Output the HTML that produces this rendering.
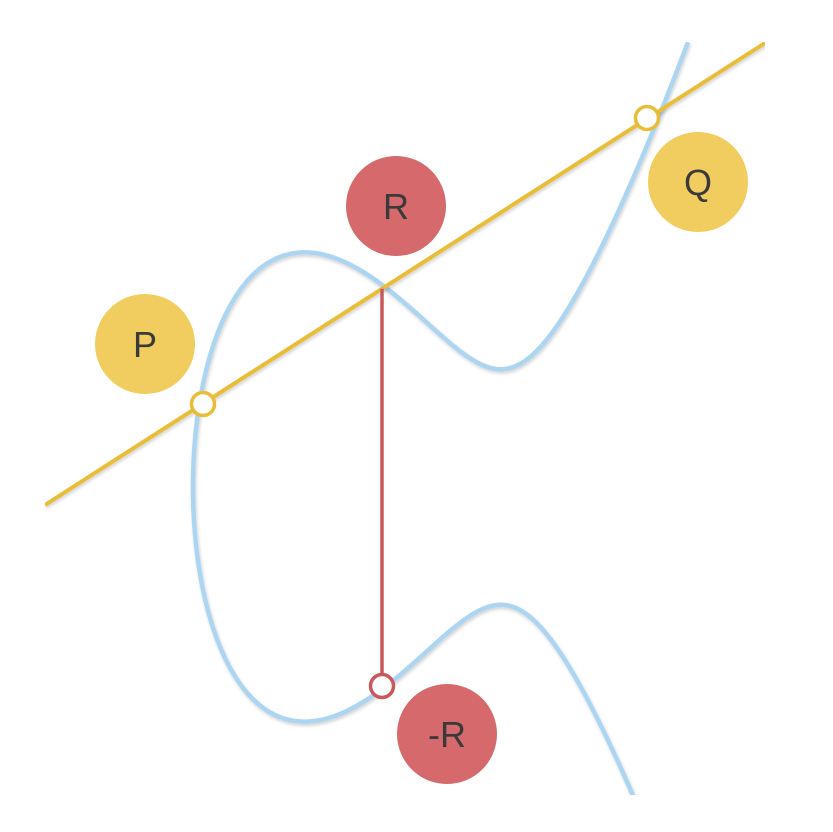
<!DOCTYPE html>
<html>
<head>
<meta charset="utf-8">
<style>
html,body{margin:0;padding:0;background:#fff;width:833px;height:832px;overflow:hidden;}
svg{display:block;}
text{font-family:"Liberation Sans","DejaVu Sans",sans-serif;font-size:36px;fill:#3a3a3a;}
</style>
</head>
<body>
<svg id="chart" width="833" height="832" viewBox="0 0 833 832">
<defs>
<clipPath id="clip"><rect x="45" y="42" width="720" height="753"/></clipPath>
<filter id="sh" filterUnits="userSpaceOnUse" x="0" y="0" width="833" height="832">
<feDropShadow dx="1" dy="2" stdDeviation="1.5" flood-color="#000" flood-opacity="0.18"/>
</filter>
</defs>
<g id="layer" clip-path="url(#clip)"></g>
<g id="labels"></g>
</svg>
<script>
// curve y^2 = c*u*(u^2 - s*u + t), u=(x-x0)/scale
const curveCoeffs = [1.09, 6.29, 10.3];
const curveOrigin = [193, 487];
const uRange = [0, 4.95];
const lineX = [45, 765];
const lineY = [505, 43];
const pointNames = ["P", "Q", "-R"];
const pointX = [203, 647, 382];
const pointY = [404, 118, 686];
const labelNames = ["P", "Q", "R", "-R"];
const labelX = [145, 698, 396, 447];
const labelY = [344, 182, 206, 734];

const NS = "http://www.w3.org/2000/svg";
const scale = 100;
function f(u){const [c,s,t]=curveCoeffs;return c*u*(u*u-s*u+t);}
function px(u){return curveOrigin[0]+u*scale;}
function py(v){return curveOrigin[1]-v*scale;}
const layer = document.getElementById('layer');
const labels = document.getElementById('labels');
function mk(tag, attrs, parent){const e=document.createElementNS(NS,tag);for(const k in attrs)e.setAttribute(k,attrs[k]);parent.appendChild(e);return e;}

let up=[],lo=[];
const N=400, sMax=Math.sqrt(uRange[1]);
for(let i=0;i<=N;i++){const s=i/N*sMax;const u=s*s;const v=Math.sqrt(Math.max(0,f(u)));up.push([px(u),py(v)]);lo.push([px(u),py(-v)]);}
const pts=lo.slice().reverse().concat(up.slice(1));
const d="M"+pts.map(p=>p[0].toFixed(2)+","+p[1].toFixed(2)).join("L");
const curve=mk('path',{d:d,fill:'none',stroke:'#acd5f2','stroke-width':4.5,filter:'url(#sh)'},layer);



const line=mk('line',{x1:lineX[0],y1:lineY[0],x2:lineX[1],y2:lineY[1],stroke:'#e9bd37','stroke-width':4,filter:'url(#sh)'},layer);



const rx=pointX[2];
const ry=lineY[0]+(rx-lineX[0])*(lineY[1]-lineY[0])/(lineX[1]-lineX[0]);
const vline=mk('line',{x1:rx,y1:ry,x2:rx,y2:pointY[2],stroke:'#c9585c','stroke-width':3.5},layer);



for(let i=0;i<pointNames.length;i++){
  const col=pointNames[i]==="-R"?'#c9585c':'#e9bd37';
  const c=mk('circle',{cx:pointX[i],cy:pointY[i],r:11.5,fill:'#fff',stroke:col,'stroke-width':3.5},labels);
  
  
}
for(let i=0;i<labelNames.length;i++){
  const red=labelNames[i].indexOf('R')>=0;
  const g=mk('g',{},labels);
  
  
  mk('circle',{cx:labelX[i],cy:labelY[i],r:50,fill:red?'#d6696b':'#f0cd5e'},g);
  const t=mk('text',{x:labelX[i],y:labelY[i]+13,'text-anchor':'middle'},g);
  t.textContent=labelNames[i];
}
</script>
</body>
</html>
